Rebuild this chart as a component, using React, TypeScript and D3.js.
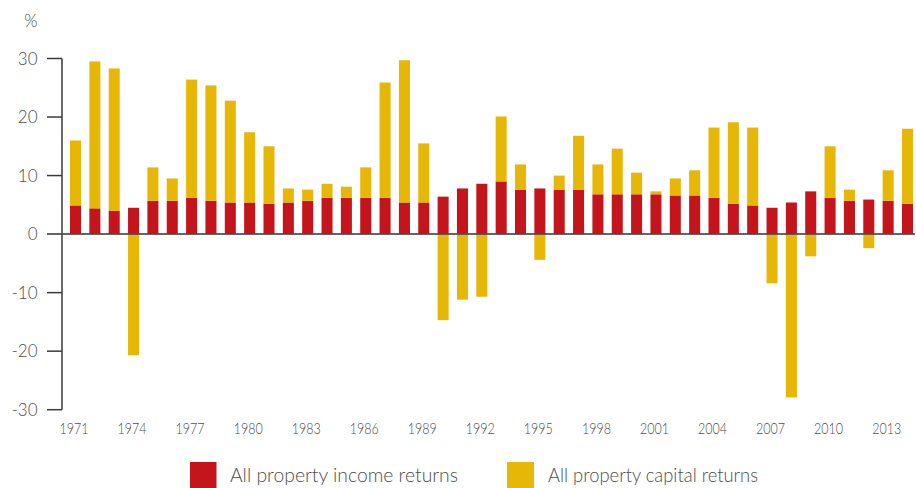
import React from "react";
import * as d3 from "d3";

const years: number[] = d3.range(1971, 2015);
const incomeReturns: number[] = [
  4.9, 4.4, 4.0, 4.5, 5.7, 5.7, 6.2, 5.7, 5.4, 5.4, 5.2, 5.4, 5.7, 6.2, 6.2,
  6.2, 6.2, 5.4, 5.4, 6.4, 7.8, 8.6, 9.0, 7.6, 7.8, 7.6, 7.6, 6.8, 6.8, 6.8,
  6.8, 6.6, 6.6, 6.2, 5.2, 4.9, 4.5, 5.4, 7.3, 6.2, 5.7, 5.9, 5.7, 5.2,
];
const capitalReturns: number[] = [
  11.1, 25.1, 24.3, -20.7, 5.7, 3.8, 20.2, 19.7, 17.4, 12.0, 9.8, 2.4, 1.9,
  2.4, 1.9, 5.2, 19.7, 24.3, 10.1, -14.7, -11.2, -10.7, 11.1, 4.3, -4.4, 2.4,
  9.2, 5.1, 7.8, 3.7, 0.5, 2.9, 4.3, 12.0, 13.9, 13.3, -8.4, -27.9, -3.8, 8.8,
  1.9, -2.4, 5.2, 12.8,
];
const yTicks: number[] = [-30, -20, -10, 0, 10, 20, 30];
const xTickYears: number[] = d3.range(1971, 2015, 3);
const seriesNames: string[] = ["All property income returns", "All property capital returns"];
const seriesKeys: string[] = ["income", "capital"];
const seriesColors: string[] = ["#C4141C", "#E6B706"];
const unitLabel = "%";

export default function App() {
  const W = 916;
  const H = 488;
  const font = "Lato, 'Open Sans', sans-serif";
  const textColor = "#4d4d4d";

  const rows = years.map((y, i) => ({
    year: String(y),
    income: incomeReturns[i],
    capital: capitalReturns[i],
  }));

  const x = d3
    .scaleBand<string>()
    .domain(years.map(String))
    .range([70, 913])
    .paddingInner(0.43)
    .paddingOuter(0);
  const y = d3.scaleLinear().domain([-30, 30]).range([409.7, 58.5]);

  const stack = d3
    .stack<any>()
    .keys(seriesKeys)
    .offset(d3.stackOffsetDiverging);
  const series = stack(rows);

  const axisX = 62;

  return (
    <svg
      width={W}
      height={H}
      style={{ position: "absolute", left: 0, top: 0, background: "#fff" }}
      fontFamily={font}
      fontWeight={300}
    >
      {/* bars */}
      {series.map((s, si) => (
        <g key={s.key} fill={seriesColors[si]}>
          {s.map((d, i) => {
            const y0 = y(d[0]);
            const y1 = y(d[1]);
            return (
              <rect
                key={i}
                x={x(rows[i].year)}
                width={x.bandwidth()}
                y={Math.min(y0, y1)}
                height={Math.abs(y0 - y1)}
              />
            );
          })}
        </g>
      ))}

      {/* y axis */}
      <line x1={axisX} x2={axisX} y1={y(30)} y2={y(-30)} stroke="#3a3a3a" strokeWidth={1.5} />
      {yTicks.map((t) => (
        <g key={t}>
          {t !== 0 && (
            <line x1={47} x2={axisX} y1={y(t)} y2={y(t)} stroke="#3a3a3a" strokeWidth={1.5} />
          )}
          <text
            x={37.5}
            y={y(t)}
            dy="0.36em"
            textAnchor="end"
            fontSize={17}
            fill={textColor}
          >
            {t}
          </text>
        </g>
      ))}
      <text x={31} y={21} dy="0.35em" textAnchor="middle" fontSize={17} fill={textColor}>
        {unitLabel}
      </text>

      {/* zero line */}
      <line
        x1={47}
        x2={915}
        y1={y(0)}
        y2={y(0)}
        stroke="#4a4a4a"
        strokeOpacity={0.85}
        strokeWidth={2}
      />

      {/* x labels */}
      {xTickYears.map((yr) => (
        <text
          key={yr}
          x={(x(String(yr)) as number) + x.bandwidth() / 2 - 1.5}
          y={434}
          textAnchor="middle"
          fontSize={16.5}
          fill={textColor}
          textLength={29}
          lengthAdjust="spacingAndGlyphs"
        >
          {yr}
        </text>
      ))}

      {/* legend */}
      <rect x={190} y={462} width={26.5} height={26} fill={seriesColors[0]} />
      <text
        x={230}
        y={482}
        fontSize={20}
        fill={textColor}
        textLength={228}
        lengthAdjust="spacingAndGlyphs"
      >
        {seriesNames[0]}
      </text>
      <rect x={507} y={462} width={27} height={26} fill={seriesColors[1]} />
      <text
        x={548}
        y={482}
        fontSize={20}
        fill={textColor}
        textLength={210}
        lengthAdjust="spacingAndGlyphs"
      >
        {seriesNames[1]}
      </text>
    </svg>
  );
}
